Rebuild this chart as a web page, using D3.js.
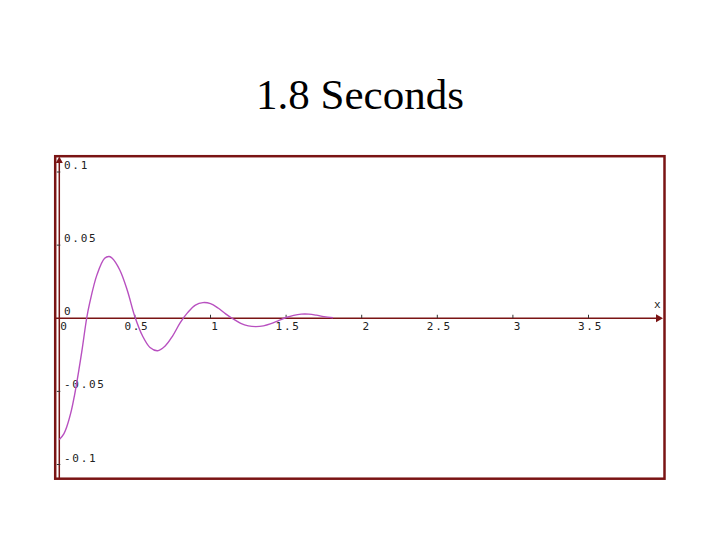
<!DOCTYPE html>
<html><head><meta charset="utf-8">
<script src="https://cdn.jsdelivr.net/npm/d3@7"></script>
<style>body{margin:0;background:#fff}</style>
</head><body>
<script>
const title = "1.8 Seconds";
const xTicks = [0, 0.5, 1, 1.5, 2, 2.5, 3, 3.5];
const xTickLabels = ["0", "0.5", "1", "1.5", "2", "2.5", "3", "3.5"];
const yTicks = [0.1, 0.05, 0, -0.05, -0.1];
const yTickLabels = ["0.1", "0.05", "0", "-0.05", "-0.1"];
const curveX = [0, 0.03, 0.05, 0.08, 0.1, 0.13, 0.15, 0.181, 0.2, 0.25, 0.3, 0.33, 0.35, 0.4, 0.45, 0.5, 0.55, 0.6, 0.65, 0.7, 0.75, 0.8, 0.85, 0.9, 0.95, 1.0, 1.05, 1.1, 1.15, 1.2, 1.25, 1.3, 1.35, 1.4, 1.45, 1.5, 1.55, 1.6, 1.65, 1.7, 1.75, 1.81];
const curveY = [-0.083, -0.079, -0.074, -0.063, -0.053, -0.035, -0.022, 0, 0.010, 0.030, 0.041, 0.0422, 0.041, 0.033, 0.019, 0.001, -0.012, -0.020, -0.0222, -0.019, -0.012, -0.003, 0.004, 0.009, 0.0107, 0.010, 0.007, 0.003, -0.0005, -0.0035, -0.0052, -0.0057, -0.0052, -0.0037, -0.0016, 0.0005, 0.0020, 0.0028, 0.0028, 0.0021, 0.0011, 0.0003];

const W = 720, H = 540;
const maroon = "#7a1414";
const svg = d3.select("body").append("svg").attr("width", W).attr("height", H);

const x = d3.scaleLinear().domain([0, 4]).range([59.3, 664.1]);
const y = d3.scaleLinear().domain([-0.1, 0.1]).range([464.5, 172]);

svg.append("text").attr("x", 360).attr("y", 109).attr("text-anchor", "middle")
  .attr("font-family", "Liberation Serif, Times New Roman, serif").attr("font-size", 43)
  .attr("fill", "#000").text(title);

// frame
svg.append("rect").attr("x", 55.2).attr("y", 156.2).attr("width", 609.3).attr("height", 322.5)
  .attr("fill", "none").attr("stroke", maroon).attr("stroke-width", 2.5);

// axes lines
svg.append("line").attr("x1", x(0)).attr("x2", x(0)).attr("y1", 479).attr("y2", 162)
  .attr("stroke", maroon).attr("stroke-width", 1.5);
svg.append("line").attr("x1", 56).attr("x2", 658).attr("y1", y(0)).attr("y2", y(0))
  .attr("stroke", maroon).attr("stroke-width", 1.5);
// arrows
svg.append("path").attr("d", `M${x(0)-3.5},${163} L${x(0)},${156.5} L${x(0)+3.5},${163} Z`).attr("fill", maroon);
svg.append("path").attr("d", `M${656},${y(0)-4} L${663},${y(0)} L${656},${y(0)+4} Z`).attr("fill", maroon);

const lblFont = "DejaVu Sans Mono, monospace";
// x ticks
const xg = svg.append("g");
xTicks.forEach((t, i) => {
  if (t !== 0) xg.append("line").attr("x1", x(t)).attr("x2", x(t)).attr("y1", y(0) - 3.5).attr("y2", y(0))
    .attr("stroke", "#333").attr("stroke-width", 1);
  const lab = xTickLabels[i];
  xg.append("text").attr("x", x(t) + (lab.length === 1 ? 5 : 2)).attr("y", y(0) + 11.5)
    .attr("text-anchor", "middle").attr("font-family", lblFont).attr("font-size", 11)
    .attr("letter-spacing", 1.7).attr("fill", "#222").text(lab);
});
// y ticks
const yg = svg.append("g");
yTicks.forEach((t, i) => {
  if (t !== 0) yg.append("line").attr("x1", x(0) - 2.5).attr("x2", x(0) + 1).attr("y1", y(t)).attr("y2", y(t))
    .attr("stroke", "#333").attr("stroke-width", 1);
  yg.append("text").attr("x", 64).attr("y", y(t) - 3)
    .attr("font-family", lblFont).attr("font-size", 11)
    .attr("letter-spacing", 1.7).attr("fill", "#222").text(yTickLabels[i]);
});
svg.append("text").attr("x", 654).attr("y", y(0) - 10).attr("font-family", lblFont).attr("font-size", 11)
  .attr("fill", "#222").text("x");

// curve
const pts = curveX.map((v, i) => [v, curveY[i]]);
svg.append("path").datum(pts)
  .attr("d", d3.line().x(d => x(d[0])).y(d => y(d[1])).curve(d3.curveCatmullRom.alpha(0.5)))
  .attr("fill", "none").attr("stroke", "#b850c0").attr("stroke-width", 1.4);
</script>
</body></html>
